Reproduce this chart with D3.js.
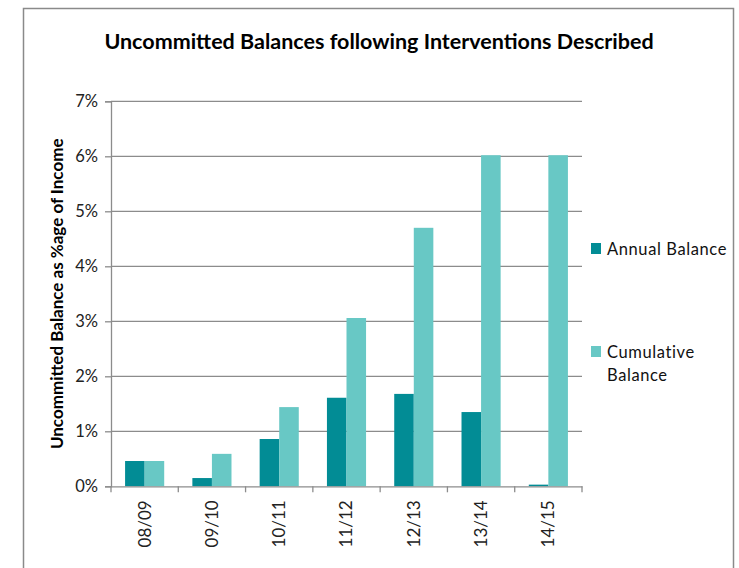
<!DOCTYPE html>
<html><head><meta charset="utf-8">
<script src="https://cdn.jsdelivr.net/npm/d3@7"></script>
<style>body{margin:0;background:#fff}svg{display:block}</style>
</head><body>
<svg id="c" width="739" height="568"></svg>
<script>
const categories = ["08/09","09/10","10/11","11/12","12/13","13/14","14/15"];
const annualBalance = [0.46,0.15,0.86,1.61,1.68,1.35,0.03];
const cumulativeBalance = [0.46,0.59,1.44,3.06,4.70,6.02,6.02];
const seriesNames = ["Annual Balance","Cumulative Balance"];
const seriesColors = ["#028C95","#68C8C5"];
const yTicks = [0,1,2,3,4,5,6,7];
const titleText = "Uncommitted Balances following Interventions Described";
const yTitle = "Uncommitted Balance as %age of Income";

(function(){
const svg = d3.select("#c");
const font = "Lato, 'Open Sans', sans-serif";
svg.append("rect").attr("x",23.5).attr("y",8.5).attr("width",710).attr("height",580)
  .attr("fill","none").attr("stroke","#8a8a8a").attr("stroke-width",1.5);

const pLeft=111, pRight=582, pTop=101.3, pBottom=486.3;
const x = d3.scaleBand().domain(categories).range([pLeft,pRight]).paddingInner(0).paddingOuter(0);
const x1 = d3.scaleBand().domain([0,1]).range([0,x.bandwidth()]).paddingInner(0).paddingOuter(0.72);
const y = d3.scaleLinear().domain([0,7]).range([pBottom,pTop]);

svg.append("g").selectAll("line").data(yTicks.slice(1)).join("line")
  .attr("x1",pLeft).attr("x2",pRight).attr("y1",d=>y(d)).attr("y2",d=>y(d))
  .attr("stroke","#8c8c8c").attr("stroke-width",1.3);

const yAxis = svg.append("g").attr("transform",`translate(${pLeft},0)`)
  .call(d3.axisLeft(y).tickValues(yTicks).tickFormat(d=>d+"%").tickSize(6).tickPadding(7));
yAxis.select(".domain").attr("stroke","#8c8c8c").attr("stroke-width",1.3);
yAxis.selectAll(".tick line").attr("stroke","#8c8c8c").attr("stroke-width",1.3);
yAxis.selectAll("text").attr("font-family",font).attr("font-size",16.5).attr("fill","#222");

const groups = svg.append("g").selectAll("g").data(categories).join("g")
  .attr("transform",d=>`translate(${x(d)},0)`);
groups.selectAll("rect").data((d,i)=>[annualBalance[i],cumulativeBalance[i]]).join("rect")
  .attr("x",(d,j)=>x1(j)).attr("width",x1.bandwidth())
  .attr("y",d=>y(d)).attr("height",d=>y(0)-y(d))
  .attr("fill",(d,j)=>seriesColors[j]);

const xAxis = svg.append("g").attr("transform",`translate(0,${pBottom})`)
  .call(d3.axisBottom(x).tickSize(0).tickFormat(d=>d));
xAxis.select(".domain").attr("stroke","#8c8c8c").attr("stroke-width",1.3);
xAxis.selectAll("text").attr("font-family",font).attr("font-size",17).attr("fill","#222")
  .attr("transform","rotate(-90)").attr("text-anchor","end").attr("dy","0.35em")
  .attr("x",-14).attr("y",0);
const bounds = categories.map(c=>x(c)).concat([pRight]);
svg.append("g").selectAll("line").data(bounds).join("line")
  .attr("x1",d=>d).attr("x2",d=>d).attr("y1",pBottom).attr("y2",pBottom+6)
  .attr("stroke","#8c8c8c").attr("stroke-width",1.3);

svg.append("text").attr("x",379).attr("y",49).attr("text-anchor","middle")
  .attr("font-family",font).attr("font-weight","bold").attr("font-size",21.5).attr("fill","#000")
  .text(titleText);
svg.append("text").attr("transform",`translate(63,${(pTop+pBottom)/2}) rotate(-90)`)
  .attr("text-anchor","middle").attr("font-family",font).attr("font-weight","bold")
  .attr("font-size",17).attr("fill","#000").text(yTitle);

const leg = svg.append("g");
const legY = [243,346];
leg.selectAll("rect").data(seriesNames).join("rect")
  .attr("x",591).attr("y",(d,i)=>legY[i]).attr("width",10).attr("height",11)
  .attr("fill",(d,i)=>seriesColors[i]);
const legLines = [["Annual Balance"],["Cumulative","Balance"]];
legLines.forEach((lines,i)=>{
  const t = leg.append("text").attr("font-family",font).attr("font-size",16.5)
    .attr("fill","#111").attr("letter-spacing","0.6px");
  lines.forEach((ln,k)=>{
    t.append("tspan").attr("x",607).attr("y",legY[i]+12+k*23).text(ln);
  });
});
})();
</script>
</body></html>
